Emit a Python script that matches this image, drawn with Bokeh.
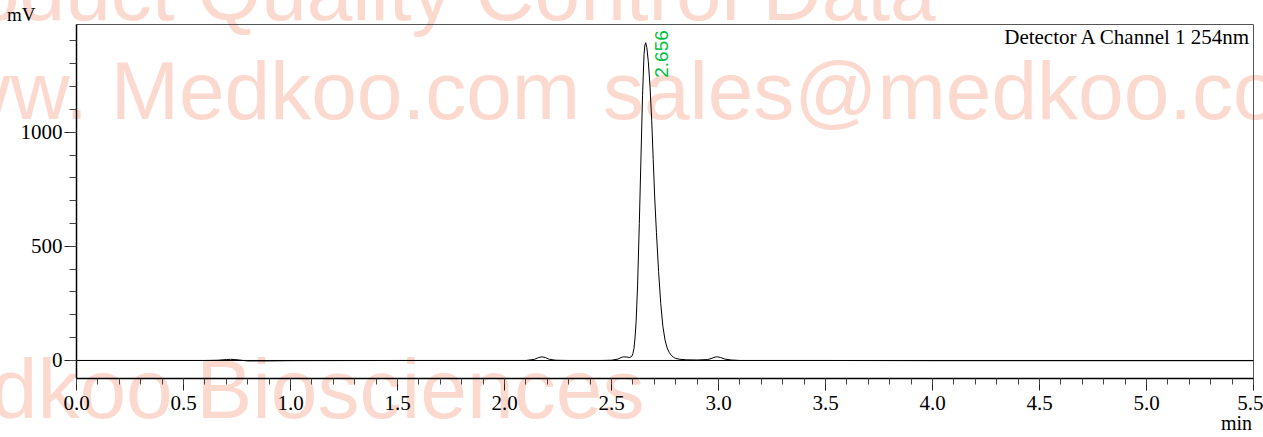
import math
from bokeh.plotting import figure
from bokeh.layouts import column
from bokeh.models import (Range1d, SingleIntervalTicker, Label, Span, Div,
                          CustomJSTickFormatter)
from bokeh.embed import file_html
from bokeh.resources import INLINE

# ---- data ----
time_min = [0.0, 0.30, 0.60, 0.66, 0.70, 0.72, 0.74, 0.77, 0.80, 0.90, 1.00, 1.50,
            2.00, 2.10, 2.14, 2.16, 2.175, 2.19, 2.21, 2.24, 2.30, 2.45, 2.50, 2.53,
            2.545, 2.555, 2.57, 2.585, 2.595, 2.600, 2.605, 2.610, 2.615, 2.622, 2.630,
            2.638, 2.645, 2.652, 2.656, 2.660, 2.665, 2.672, 2.680, 2.688, 2.695, 2.702,
            2.710, 2.720, 2.730, 2.740, 2.750, 2.760, 2.770, 2.780, 2.790, 2.800, 2.82,
            2.85, 2.90, 2.95, 2.97, 2.985, 2.995, 3.01, 3.03, 3.06, 3.10, 3.5, 4.0, 4.5,
            5.0, 5.5]
signal_mv = [0, 0, 0, 1, 4, 5, 4, 1, -2, -2, -1, 0,
             0, 0, 5, 13, 16, 13, 5, 1, 0, 0, 1, 6,
             13, 16, 15, 13, 18, 30, 52, 100, 170, 330, 600,
             900, 1160, 1340, 1382, 1392, 1372, 1310, 1200, 1050, 880, 712,
             560, 390, 250, 150, 90, 55, 35, 22, 14, 9, 5,
             3, 2, 4, 10, 15, 16, 13, 6, 2, 0, 0, -1, -1,
             -1, -1]
peak_time = 2.656
peak_height = 1392
peak_label = "2.656"
x_ticks_interval = 0.5
y_ticks_interval = 500
detector_text = "Detector A Channel 1 254nm"
y_unit = "mV"
x_unit = "min"
watermarks = ["Product Quality Control Data",
              "www. Medkoo.com sales@medkoo.com",
              "Medkoo Biosciences"]

W, H = 1263, 437
X0, X1 = 0.0, 5.5
Y0, Y1 = -79, 1472
serif = "Liberation Serif"
wm_color = "#fcd9cf"

# ---- page background layer: watermark and unit captions (inline SVG) ----
wm_rows = [(-108, 20), (-108, 119), (-126, 418)]
wm_sizes = [82, 82, 84]
parts = [f'<svg xmlns="http://www.w3.org/2000/svg" width="{W}" height="{H}" '
         f'style="display:block;overflow:hidden">']
for txt, (tx, ty), fs in zip(watermarks, wm_rows, wm_sizes):
    parts.append(f'<text x="{tx}" y="{ty}" style="font-family:\'Liberation Sans\';'
                 f'font-size:{fs}px;fill:{wm_color}">{txt}</text>')
parts.append(f'<text x="7" y="21" style="font-family:\'{serif}\';font-size:19px;'
             f'fill:black">{y_unit}</text>')
parts.append(f'<text x="1252" y="430" text-anchor="end" style="font-family:\'{serif}\';'
             f'font-size:20px;fill:black">{x_unit}</text>')
parts.append('</svg>')
bg = Div(text="".join(parts), width=W, height=H, margin=(0, 0, 0, 0))

# ---- chart layer ----
p = figure(width=W, height=H, output_backend="svg", toolbar_location=None,
           x_range=Range1d(X0, X1), y_range=Range1d(Y0, Y1),
           min_border_left=76, min_border_right=10, min_border_top=24,
           min_border_bottom=59, margin=(-H, 0, 0, 0))
p.grid.visible = False
p.outline_line_color = "#555555"
p.outline_line_width = 1
p.background_fill_color = None
p.border_fill_color = None

p.add_layout(Span(location=0, dimension="width", line_color="black", line_width=1))
p.line(time_min, signal_mv, line_color="black", line_width=1)

for ax, iv in ((p.xaxis[0], x_ticks_interval), (p.yaxis[0], y_ticks_interval)):
    ax.ticker = SingleIntervalTicker(interval=iv, num_minor_ticks=5)
    ax.axis_line_color = "black"
    ax.axis_line_width = 1.5
    ax.major_tick_line_color = "#222222"
    ax.minor_tick_line_color = "#444444"
    ax.major_tick_in = 0
    ax.minor_tick_in = 0
    ax.major_label_text_font = serif
    ax.major_label_text_font_size = "21px"
    ax.major_label_text_color = "black"

p.xaxis.major_tick_out = 12
p.xaxis.minor_tick_out = 6
p.xaxis.major_label_standoff = 5
p.xaxis.formatter = CustomJSTickFormatter(code="return tick.toFixed(1);")
p.yaxis.major_tick_out = 12
p.yaxis.minor_tick_out = 7
p.yaxis.major_label_standoff = 2

p.add_layout(Label(x=X1, y=Y1, x_offset=-2, y_offset=-12, text=detector_text,
                   text_font=serif, text_font_size="21px", text_color="black",
                   text_align="right", text_baseline="middle"))
p.add_layout(Label(x=peak_time, y=peak_height, x_offset=17, y_offset=-35,
                   text=peak_label, angle=math.pi / 2,
                   text_font="Liberation Sans", text_font_size="19px",
                   text_color="#00c040", text_align="left",
                   text_baseline="alphabetic"))

page = column(bg, p)
open("out.html", "w").write(file_html(page, INLINE))
